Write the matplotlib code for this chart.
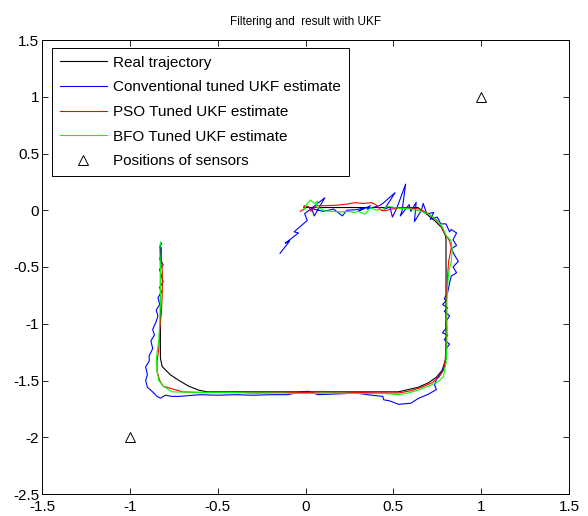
import matplotlib
matplotlib.use('Agg')
import matplotlib.pyplot as plt

plt.rcParams['font.family'] = ['Liberation Sans', 'DejaVu Sans']
plt.rcParams['axes.unicode_minus'] = False

# real trajectory
real_x = [-0.01, 0.64, 0.69, 0.737, 0.775, 0.797, 0.80, 0.80, 0.794, 0.778, 0.746, 0.70, 0.642,
          0.585, 0.528, -0.56, -0.608, -0.665, -0.72, -0.769, -0.816, -0.826, -0.826]
real_y = [0.024, 0.024, -0.035, -0.094, -0.152, -0.225, -0.26, -1.30, -1.33, -1.41, -1.47, -1.52, -1.56,
          -1.58, -1.60, -1.60, -1.585, -1.55, -1.50, -1.45, -1.377, -1.30, -0.30]

# conventional tuned UKF
conv_x = [-0.145, -0.09, -0.115, -0.04, -0.065, 0.01, -0.005, 0.02, 0.11, 0.05, 0.035, 0.10, 0.16, 0.21,
          0.235, 0.29, 0.33, 0.30, 0.37, 0.35, 0.42, 0.44, 0.51, 0.45, 0.48, 0.495, 0.52, 0.57, 0.55,
          0.54, 0.59, 0.60, 0.63, 0.62, 0.66, 0.67, 0.69, 0.73, 0.71, 0.75, 0.77, 0.80, 0.82, 0.83,
          0.86, 0.84, 0.86, 0.83, 0.85, 0.87, 0.84, 0.86, 0.83, 0.82, 0.81, 0.79, 0.80, 0.78, 0.81,
          0.79, 0.82, 0.80, 0.80, 0.78, 0.81, 0.79, 0.82, 0.80, 0.80, 0.79, 0.77, 0.745, 0.735, 0.745,
          0.70, 0.64, 0.60, 0.53, 0.48, 0.445, 0.44, 0.38, 0.33, 0.26, 0.23, 0.15, 0.07, 0.02, -0.03,
          -0.10, -0.20, -0.30, -0.40, -0.50, -0.60, -0.64, -0.72, -0.76, -0.797, -0.826, -0.845,
          -0.873, -0.90, -0.91, -0.90, -0.91, -0.89, -0.89, -0.87, -0.88, -0.86, -0.87, -0.85, -0.84,
          -0.85, -0.83, -0.84, -0.82, -0.83, -0.81, -0.82, -0.83, -0.81, -0.83, -0.82, -0.83, -0.82]
conv_y = [-0.38, -0.27, -0.29, -0.20, -0.19, -0.09, -0.03, 0.0, 0.11, -0.05, 0.015, -0.01, 0.01, -0.05,
          0.0, 0.005, 0.02, -0.01, 0.04, 0.01, 0.04, 0.06, 0.155, 0.01, 0.03, -0.06, 0.02, 0.23, 0.0,
          -0.05, 0.05, -0.01, 0.07, -0.10, 0.0, 0.06, -0.03, -0.02, -0.08, -0.06, -0.12, -0.12, -0.19,
          -0.17, -0.20, -0.26, -0.31, -0.34, -0.40, -0.45, -0.50, -0.55, -0.58, -0.64, -0.72, -0.78,
          -0.80, -0.83, -0.86, -0.89, -0.93, -0.98, -1.04, -1.08, -1.10, -1.14, -1.18, -1.22, -1.30,
          -1.38, -1.44, -1.49, -1.54, -1.58, -1.62, -1.66, -1.70, -1.71, -1.68, -1.67, -1.64, -1.63,
          -1.62, -1.605, -1.615, -1.62, -1.625, -1.595, -1.60, -1.625, -1.625, -1.63, -1.625, -1.63,
          -1.625, -1.63, -1.64, -1.64, -1.63, -1.655, -1.64, -1.596, -1.56, -1.50, -1.45, -1.38, -1.33,
          -1.28, -1.22, -1.15, -1.10, -1.05, -0.98, -0.93, -0.88, -0.83, -0.77, -0.72, -0.68, -0.63,
          -0.58, -0.52, -0.48, -0.43, -0.38, -0.33, -0.29]

# PSO tuned UKF
pso_x = [-0.03, 0.0, -0.01, 0.02, 0.03, 0.06, 0.11, 0.18, 0.24, 0.28, 0.33, 0.375, 0.40, 0.43, 0.45,
         0.49, 0.55, 0.60, 0.65, 0.70, 0.74, 0.765, 0.79, 0.82, 0.83, 0.815, 0.81, 0.805, 0.80, 0.805,
         0.80, 0.795, 0.785, 0.76, 0.72, 0.66, 0.60, 0.53, 0.40, 0.30, 0.20, 0.10, 0.0, -0.15, -0.30,
         -0.42, -0.50, -0.60, -0.70, -0.81, -0.83, -0.845, -0.845, -0.835, -0.83, -0.82, -0.815,
         -0.815, -0.82, -0.82]
pso_y = [-0.01, 0.02, 0.04, 0.03, -0.01, 0.04, 0.04, 0.045, 0.055, 0.067, 0.06, 0.067, 0.05, 0.0, -0.005,
         0.01, 0.024, 0.02, 0.01, -0.03, -0.08, -0.12, -0.20, -0.27, -0.33, -0.45, -0.55, -0.70, -0.90,
         -1.05, -1.20, -1.33, -1.41, -1.47, -1.52, -1.56, -1.59, -1.61, -1.61, -1.605, -1.61, -1.60,
         -1.605, -1.605, -1.61, -1.60, -1.605, -1.605, -1.60, -1.55, -1.50, -1.42, -1.33, -1.22,
         -1.05, -0.90, -0.70, -0.55, -0.42, -0.33]

# BFO tuned UKF
bfo_x = [-0.01, 0.01, 0.03, 0.05, 0.07, 0.06, 0.09, 0.11, 0.15, 0.20, 0.24, 0.28, 0.30, 0.34, 0.37,
         0.40, 0.44, 0.47, 0.52, 0.60, 0.66, 0.71, 0.75, 0.78, 0.80, 0.83, 0.835, 0.83, 0.815, 0.81,
         0.805, 0.805, 0.805, 0.80, 0.785, 0.756, 0.70, 0.64, 0.585, 0.53, 0.45, 0.30, 0.15, 0.0,
         -0.15, -0.30, -0.45, -0.60, -0.76, -0.81, -0.835, -0.845, -0.85, -0.845, -0.835, -0.83,
         -0.825, -0.825, -0.83, -0.825]
bfo_y = [0.0, 0.06, 0.09, 0.06, 0.08, 0.03, 0.01, -0.005, -0.01, -0.015, -0.01, -0.02, -0.01, -0.035,
         0.024, 0.0, 0.01, 0.035, 0.02, 0.01, -0.01, -0.04, -0.09, -0.15, -0.22, -0.27, -0.35, -0.45,
         -0.55, -0.65, -0.80, -1.00, -1.20, -1.35, -1.465, -1.51, -1.55, -1.585, -1.61, -1.625,
         -1.615, -1.615, -1.61, -1.615, -1.61, -1.61, -1.605, -1.605, -1.60, -1.55, -1.50, -1.42,
         -1.35, -1.25, -1.15, -1.00, -0.80, -0.50, -0.35, -0.28]

# sensors
sensor_x = [-1, 1]
sensor_y = [-2, 1]

fig = plt.figure(figsize=(5.88, 5.16), dpi=100)
ax = fig.add_axes([42/588, 22/516, 527/588, 454/516])

ax.plot(real_x, real_y, color='k', lw=0.8, label='Real trajectory')
ax.plot(conv_x, conv_y, color=(0, 0, 1), lw=0.8, label='Conventional tuned UKF estimate')
ax.plot(pso_x, pso_y, color=(1, 0, 0), lw=0.8, label='PSO Tuned UKF estimate')
ax.plot(bfo_x, bfo_y, color=(0, 1, 0), lw=0.8, label='BFO Tuned UKF estimate')
ax.plot(sensor_x, sensor_y, linestyle='none', marker='^', markersize=7, markerfacecolor='none',
        markeredgecolor='k', markeredgewidth=0.7, label='Positions of sensors')

ax.set_xlim(-1.5, 1.5)
ax.set_ylim(-2.5, 1.5)
ax.set_xticks([-1.5, -1, -0.5, 0, 0.5, 1, 1.5])
ax.set_xticklabels(['-1.5', '-1', '-0.5', '0', '0.5', '1', '1.5'])
ax.set_yticks([-2.5, -2, -1.5, -1, -0.5, 0, 0.5, 1, 1.5])
ax.set_yticklabels(['-2.5', '-2', '-1.5', '-1', '-0.5', '0', '0.5', '1', '1.5'])
ax.tick_params(direction='in', top=True, right=True, length=4, width=0.6, labelsize=11)
ax.tick_params(axis='x', pad=4)
ax.tick_params(axis='y', pad=2)
for s in ax.spines.values():
    s.set_linewidth(0.7)

ax.set_title('Filtering and  result with UKF', fontsize=8.5, pad=11)

leg = ax.legend(loc='upper left', bbox_to_anchor=(0.019, 0.9825), borderaxespad=0,
                fontsize=11, frameon=True, fancybox=False, framealpha=1, edgecolor='k',
                handlelength=3.1, handletextpad=0.4, labelspacing=0.7, borderpad=0.5)
leg.get_frame().set_linewidth(0.7)

fig.savefig('out.png', dpi=100)
